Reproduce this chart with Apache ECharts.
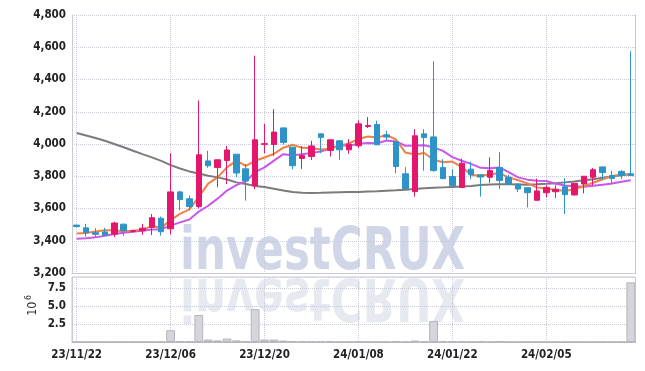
<!DOCTYPE html>
<html>
<head>
<meta charset="utf-8">
<script src="https://cdn.jsdelivr.net/npm/echarts@6/dist/echarts.min.js"></script>
<style>
html,body{margin:0;padding:0;background:#fff;}
#chart{width:645px;height:371px;}
</style>
</head>
<body>
<div id="chart"></div>
<script>
const dates = ['23/11/22','23/11/23','23/11/24','23/11/27','23/11/28','23/11/29','23/11/30','23/12/01','23/12/04','23/12/05',
'23/12/06','23/12/07','23/12/08','23/12/11','23/12/12','23/12/13','23/12/14','23/12/15','23/12/18','23/12/19',
'23/12/20','23/12/21','23/12/22','23/12/26','23/12/27','23/12/28','24/01/02','24/01/03','24/01/04','24/01/05',
'24/01/08','24/01/09','24/01/10','24/01/11','24/01/12','24/01/15','24/01/16','24/01/17','24/01/18','24/01/19',
'24/01/22','24/01/23','24/01/24','24/01/25','24/01/26','24/01/29','24/01/30','24/01/31','24/02/01','24/02/02',
'24/02/05','24/02/06','24/02/07','24/02/08','24/02/13','24/02/14','24/02/15','24/02/16','24/02/19','24/02/20'];

const openP = [3497,3480,3450,3455,3441,3503,3458,3462,3483,3540, 3474,3703,3660,3612,3895,3854,3898,3937,3846,3742,
3998,3997,4100,3980,3910,3922,4063,3960,4020,3964, 3989,4108,4121,4057,4015,3815,3705,4063,4044,3854,
3798,3731,3844,3809,3794,3854,3794,3752,3729,3651, 3698,3704,3735,3684,3752,3794,3858,3804,3830,3815];
const closeP = [3488,3450,3440,3435,3510,3462,3462,3478,3543,3456, 3703,3655,3612,3933,3865,3902,3963,3820,3771,4026,
4002,4074,4010,3865,3928,3988,4041,4026,3964,3999, 4125,4115,3995,4043,3860,3724,4051,4040,3835,3785,
3742,3881,3809,3795,3835,3773,3752,3721,3698,3709, 3731,3719,3686,3756,3800,3840,3823,3786,3805,3805];
const lowP = [3482,3425,3425,3430,3422,3430,3452,3437,3435,3432, 3440,3590,3590,3600,3853,3732,3752,3793,3649,3719,
3943,3927,3997,3843,3846,3901,3943,3922,3902,3939, 3974,4099,3994,4026,3819,3722,3674,3835,3828,3783,
3740,3730,3782,3674,3760,3720,3746,3702,3607,3650, 3669,3665,3566,3682,3694,3744,3778,3750,3783,3802];
const highP = [3500,3505,3478,3480,3518,3505,3468,3505,3566,3550, 3943,3710,3680,4270,3958,3903,3988,3938,3875,4548,
4125,4216,4101,3982,3988,4020,4064,4028,4021,4030, 4146,4167,4144,4082,4016,3856,4092,4092,4513,3906,
3843,3910,3891,3810,3918,3949,3809,3753,3730,3785, 3744,3744,3788,3757,3801,3852,3859,3833,3838,4575];

const ma5 = [3445,3448,3458,3465,3465,3459,3462,3469,3491,3480, 3528,3567,3594,3672,3754,3793,3855,3897,3864,3896,
3916,3939,3977,3995,3976,3973,3966,3970,3989,4004, 4031,4046,4040,4055,4028,3947,3935,3944,3902,3887,
3891,3857,3810,3802,3812,3819,3793,3775,3756,3731, 3722,3716,3709,3720,3738,3760,3781,3801,3811,3812];
const ma10 = [3413,3415,3421,3431,3442,3450,3456,3462,3470,3472, 3494,3514,3532,3581,3617,3661,3711,3745,3768,3825,
3855,3897,3937,3930,3936,3945,3953,3973,3992,3990, 4002,4006,4005,4022,4016,3989,3990,3992,3979,3957,
3919,3896,3877,3852,3850,3855,3825,3793,3779,3772, 3770,3754,3742,3738,3735,3741,3748,3755,3766,3775];
const ma60 = [4068,4053,4037,4020,4000,3980,3958,3937,3917,3895, 3869,3848,3830,3817,3803,3793,3780,3762,3752,3740,
3733,3722,3712,3703,3697,3696,3697,3699,3701,3702, 3703,3705,3707,3710,3713,3717,3721,3725,3728,3731,
3734,3737,3740,3745,3749,3750,3750,3749,3748,3750, 3753,3757,3762,3768,3775,3782,3790,3798,3806,3812];

// volume in millions (axis unit 10^6)
const volume = [0.005,0.005,0.005,0.005,0.005,0.005,0.005,0.005,0.005,0.005,
1.65,0.05,0.05,3.78,0.34,0.22,0.48,0.22,0.06,4.6,
0.34,0.34,0.2,0.06,0.06,0.06,0.06,0.06,0.005,0.005,
0.05,0.05,0.005,0.005,0.05,0.005,0.2,0.06,2.95,0.06,
0.06,0.06,0.005,0.06,0.005,0.06,0.005,0.005,0.005,0.005,
0.005,0.005,0.005,0.005,0.005,0.005,0.005,0.005,0.005,8.35];

const priceTicks = {min:3200, max:4800, interval:200};

const FONT = "'DejaVu Sans Condensed','Liberation Sans Narrow',sans-serif";
const UP = '#e3176b', DOWN = '#2e93c6';
const GRIDC = '#c6cadb', EDGE = '#c8c8d2';
const WM_FONT = "bold 58px 'DejaVu Sans Condensed',sans-serif";

const candleData = dates.map((d,i)=>[openP[i], closeP[i], lowP[i], highP[i]]);

const chart = echarts.init(document.getElementById('chart'), null, {renderer:'canvas'});
const option = {
  animation:false,
  backgroundColor:'#fff',
  grid:[
    {left:72, right:9.5, top:15, height:258},
    {left:72, right:9.5, top:277, height:65, show:true, borderColor:EDGE, borderWidth:1}
  ],
  graphic:[
    {type:'text', x:180, y:274, scaleX:0.835, z:-10, silent:true,
     style:{text:'investCRUX', x:0, y:-20.5, verticalAlign:'middle', fill:'#d0d6e7', font:WM_FONT}},
    {type:'text', x:180, y:274, scaleX:0.835, scaleY:-1, z:-10, silent:true,
     style:{text:'investCRUX', x:0, y:-20.5, verticalAlign:'middle', fill:'#e7e9f1', font:WM_FONT}},
    {type:'text', x:32.5, y:308.7, rotation:Math.PI/2, silent:true,
     style:{text:'10', align:'center', verticalAlign:'middle', fill:'#333', font:"12.5px "+FONT}},
    {type:'text', x:29, y:297.5, rotation:Math.PI/2, silent:true,
     style:{text:'6', align:'center', verticalAlign:'middle', fill:'#333', font:"8.5px "+FONT}}
  ],
  xAxis:[
    {type:'category', gridIndex:0, data:dates, position:'top', boundaryGap:true,
     axisLine:{show:true, lineStyle:{color:EDGE}}, axisTick:{show:false}, axisLabel:{show:false},
     splitLine:{show:true, interval:9, alignWithLabel:true, lineStyle:{color:GRIDC, type:'dotted'}}},
    {type:'category', gridIndex:1, data:dates, boundaryGap:true,
     axisLine:{show:true, lineStyle:{color:'#b8b8c2'}}, axisTick:{show:false},
     axisLabel:{interval:9, margin:7, fontFamily:FONT, fontWeight:'bold', fontSize:11.5, color:'#222'},
     splitLine:{show:true, interval:9, alignWithLabel:true, lineStyle:{color:GRIDC, type:'dotted'}}}
  ],
  yAxis:[
    {type:'value', gridIndex:0, min:priceTicks.min, max:priceTicks.max, interval:priceTicks.interval,
     axisLine:{show:true, lineStyle:{color:EDGE}}, axisTick:{show:false},
     axisLabel:{margin:6, fontFamily:FONT, fontWeight:'bold', fontSize:11.5, color:'#222',
       formatter:v=>v.toLocaleString('en-US')},
     splitLine:{show:true, lineStyle:{color:GRIDC, type:'dotted'}}},
    {type:'value', gridIndex:0, position:'right', min:0, max:1,
     axisLine:{show:true, lineStyle:{color:EDGE}}, axisTick:{show:false}, axisLabel:{show:false}, splitLine:{show:false}},
    {type:'value', gridIndex:1, min:0, max:9.1, interval:2.5,
     axisLine:{show:true, lineStyle:{color:EDGE}}, axisTick:{show:false},
     axisLabel:{margin:6, fontFamily:FONT, fontWeight:'bold', fontSize:11.5, color:'#222',
       formatter:v=>(v>0 && v<9) ? v.toFixed(1) : ''},
     splitLine:{show:true, lineStyle:{color:GRIDC, type:'dotted'}}}
  ],
  series:[
    {type:'line', name:'MA60', xAxisIndex:0, yAxisIndex:0, data:ma60, symbol:'none', z:1,
     lineStyle:{color:'#7b7b7e', width:2}},
    {type:'line', name:'MA10', xAxisIndex:0, yAxisIndex:0, data:ma10, symbol:'none', z:1,
     lineStyle:{color:'#c957ea', width:2}},
    {type:'line', name:'MA5', xAxisIndex:0, yAxisIndex:0, data:ma5, symbol:'none', z:1,
     lineStyle:{color:'#ee8048', width:2}},
    {type:'candlestick', xAxisIndex:0, yAxisIndex:0, data:candleData, barWidth:6, z:3,
     itemStyle:{color:UP, color0:DOWN, borderColor:UP, borderColor0:DOWN, borderWidth:1}},
    {type:'bar', xAxisIndex:1, yAxisIndex:2, data:volume, barCategoryGap:'6%',
     itemStyle:{color:'#d5d5db', borderColor:'#b4b4bc', borderWidth:1}}
  ]
};
chart.setOption(option);
</script>
</body>
</html>
